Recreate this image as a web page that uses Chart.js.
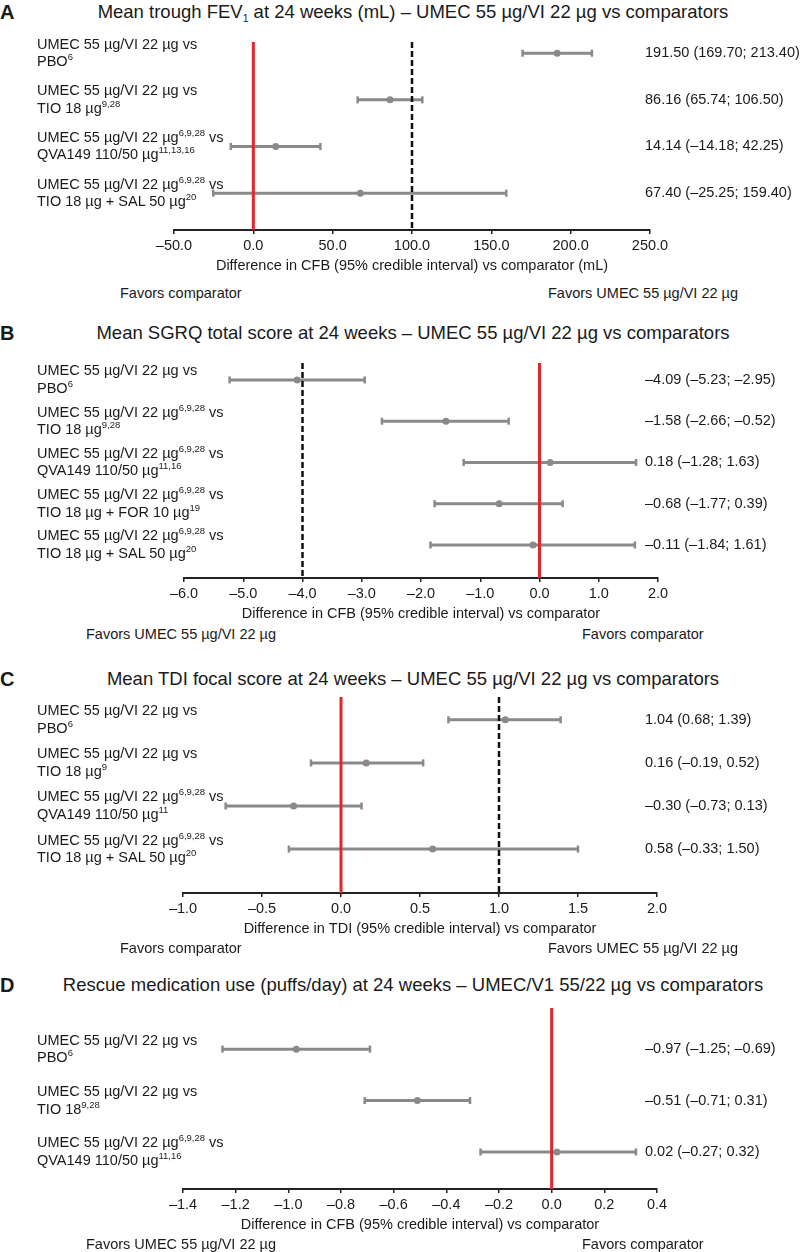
<!DOCTYPE html>
<html>
<head>
<meta charset="utf-8">
<script src="https://cdn.jsdelivr.net/npm/chart.js@4.4.0/dist/chart.umd.min.js"></script>
<style>
body { margin: 0; background: #fff; font-family: "Liberation Sans", Arial, sans-serif; color: #1a1a1a; }
#wrap { position: relative; width: 800px; height: 1252px; overflow: hidden; }
canvas { position: absolute; left: 0; }
.t { position: absolute; white-space: nowrap; font-size: 14.5px; line-height: 17.5px; }
.ttl { position: absolute; white-space: nowrap; font-size: 18.5px; line-height: 22px; transform: translateX(-50%); }
.let { position: absolute; left: 0; font-size: 20px; line-height: 22px; font-weight: bold; }
sup { font-size: 9.5px; line-height: 0; vertical-align: 6px; }
sub { font-size: 10.5px; line-height: 0; vertical-align: -4px; }
</style>
</head>
<body>
<div id="wrap"></div>
<script>
// A - trough FEV1
var rowsA = ['UMEC 55 µg/VI 22 µg vs<br>PBO<sup>6</sup>',
             'UMEC 55 µg/VI 22 µg vs<br>TIO 18 µg<sup>9,28</sup>',
             'UMEC 55 µg/VI 22 µg<sup>6,9,28</sup> vs<br>QVA149 110/50 µg<sup>11,13,16</sup>',
             'UMEC 55 µg/VI 22 µg<sup>6,9,28</sup> vs<br>TIO 18 µg + SAL 50 µg<sup>20</sup>'];
var meanA = [191.50, 86.16, 14.14, 67.40];
var lowA  = [169.70, 65.74, -14.18, -25.25];
var highA = [213.40, 106.50, 42.25, 159.40];
var textA = ['191.50 (169.70; 213.40)', '86.16 (65.74; 106.50)', '14.14 (–14.18; 42.25)', '67.40 (–25.25; 159.40)'];
var ticksA = [-50, 0, 50, 100, 150, 200, 250];

// B - SGRQ
var rowsB = ['UMEC 55 µg/VI 22 µg vs<br>PBO<sup>6</sup>',
             'UMEC 55 µg/VI 22 µg<sup>6,9,28</sup> vs<br>TIO 18 µg<sup>9,28</sup>',
             'UMEC 55 µg/VI 22 µg<sup>6,9,28</sup> vs<br>QVA149 110/50 µg<sup>11,16</sup>',
             'UMEC 55 µg/VI 22 µg<sup>6,9,28</sup> vs<br>TIO 18 µg + FOR 10 µg<sup>19</sup>',
             'UMEC 55 µg/VI 22 µg<sup>6,9,28</sup> vs<br>TIO 18 µg + SAL 50 µg<sup>20</sup>'];
var meanB = [-4.09, -1.58, 0.18, -0.68, -0.11];
var lowB  = [-5.23, -2.66, -1.28, -1.77, -1.84];
var highB = [-2.95, -0.52, 1.63, 0.39, 1.61];
var textB = ['–4.09 (–5.23; –2.95)', '–1.58 (–2.66; –0.52)', '0.18 (–1.28; 1.63)', '–0.68 (–1.77; 0.39)', '–0.11 (–1.84; 1.61)'];
var ticksB = [-6, -5, -4, -3, -2, -1, 0, 1, 2];

// C - TDI
var rowsC = ['UMEC 55 µg/VI 22 µg vs<br>PBO<sup>6</sup>',
             'UMEC 55 µg/VI 22 µg vs<br>TIO 18 µg<sup>9</sup>',
             'UMEC 55 µg/VI 22 µg<sup>6,9,28</sup> vs<br>QVA149 110/50 µg<sup>11</sup>',
             'UMEC 55 µg/VI 22 µg<sup>6,9,28</sup> vs<br>TIO 18 µg + SAL 50 µg<sup>20</sup>'];
var meanC = [1.04, 0.16, -0.30, 0.58];
var lowC  = [0.68, -0.19, -0.73, -0.33];
var highC = [1.39, 0.52, 0.13, 1.50];
var textC = ['1.04 (0.68; 1.39)', '0.16 (–0.19, 0.52)', '–0.30 (–0.73; 0.13)', '0.58 (–0.33; 1.50)'];
var ticksC = [-1, -0.5, 0, 0.5, 1, 1.5, 2];

// D - rescue medication
var rowsD = ['UMEC 55 µg/VI 22 µg vs<br>PBO<sup>6</sup>',
             'UMEC 55 µg/VI 22 µg vs<br>TIO 18<sup>9,28</sup>',
             'UMEC 55 µg/VI 22 µg<sup>6,9,28</sup> vs<br>QVA149 110/50 µg<sup>11,16</sup>'];
var meanD = [-0.97, -0.51, 0.02];
var lowD  = [-1.25, -0.71, -0.27];
var highD = [-0.69, -0.31, 0.32];
var textD = ['–0.97 (–1.25; –0.69)', '–0.51 (–0.71; 0.31)', '0.02 (–0.27; 0.32)'];
var ticksD = [-1.4, -1.2, -1.0, -0.8, -0.6, -0.4, -0.2, 0, 0.2, 0.4];

var favUmec = 'Favors UMEC 55 µg/VI 22 µg';
var favComp = 'Favors comparator';

var panels = [
  { letter: 'A', title: 'Mean trough FEV<sub>1</sub> at 24 weeks (mL) – UMEC 55 µg/VI 22 µg vs comparators',
    rows: rowsA, mean: meanA, low: lowA, high: highA, text: textA, ticks: ticksA, red: 0, dash: 100,
    axisTitle: 'Difference in CFB (95% credible interval) vs comparator (mL)', favL: favComp, favR: favUmec,
    titleY: 12, top: 42, axis: 230, x0: 174, x1: 650, yMin: -0.24, yMax: 3.79, favY: 294, favLX: 120, favRX: 548 },
  { letter: 'B', title: 'Mean SGRQ total score at 24 weeks – UMEC 55 µg/VI 22 µg vs comparators',
    rows: rowsB, mean: meanB, low: lowB, high: highB, text: textB, ticks: ticksB, red: 0, dash: -4,
    axisTitle: 'Difference in CFB (95% credible interval) vs comparator', favL: favUmec, favR: favComp,
    titleY: 333, top: 363, axis: 578, x0: 184, x1: 658, yMin: -0.41, yMax: 4.8, favY: 635, favLX: 86, favRX: 582 },
  { letter: 'C', title: 'Mean TDI focal score at 24 weeks – UMEC 55 µg/VI 22 µg vs comparators',
    rows: rowsC, mean: meanC, low: lowC, high: highC, text: textC, ticks: ticksC, red: 0, dash: 1,
    axisTitle: 'Difference in TDI (95% credible interval) vs comparator', favL: favComp, favR: favUmec,
    titleY: 679, top: 697, axis: 893, x0: 183, x1: 657, yMin: -0.53, yMax: 4.02, favY: 949, favLX: 120, favRX: 548 },
  { letter: 'D', title: 'Rescue medication use (puffs/day) at 24 weeks – UMEC/V1 55/22 µg vs comparators',
    rows: rowsD, mean: meanD, low: lowD, high: highD, text: textD, ticks: ticksD, red: 0, dash: null,
    axisTitle: 'Difference in CFB (95% credible interval) vs comparator', favL: favUmec, favR: favComp,
    titleY: 985, top: 1008, axis: 1189, x0: 183, x1: 657, yMin: -0.8, yMax: 2.72, favY: 1245, favLX: 86, favRX: 582 }
];

var wrap = document.getElementById('wrap');
var gray = '#8a8a8a';
var fontFam = '"Liberation Sans", Arial, sans-serif';

function addText(html, cls, x, y) {
  var d = document.createElement('div');
  d.className = cls;
  d.innerHTML = html;
  d.style.left = x + 'px';
  d.style.top = y + 'px';
  wrap.appendChild(d);
  return d;
}

function fmt(v) {
  return (v < -1e-9 ? '–' : '') + Math.abs(v).toFixed(1);
}

panels.forEach(function (p) {
  addText(p.letter, 'let', 0, p.titleY - 11);
  addText(p.title, 'ttl', 413, p.titleY - 11);

  var axisH = 48;
  var h = p.axis - p.top + axisH;
  var cv = document.createElement('canvas');
  cv.width = 800; cv.height = h;
  cv.style.top = p.top + 'px';
  wrap.appendChild(cv);

  var ds = [];
  ds.push({ type: 'line', data: [{ x: p.red, y: p.yMin }, { x: p.red, y: p.yMax }],
            borderColor: '#e2262c', borderWidth: 3, pointRadius: 0 });
  if (p.dash !== null) {
    ds.push({ type: 'line', data: [{ x: p.dash, y: p.yMin }, { x: p.dash, y: p.yMax }],
              borderColor: '#111', borderWidth: 2.5, borderDash: [6, 3], pointRadius: 0 });
  }
  ds.push({ type: 'scatter', data: p.mean.map(function (m, i) { return { x: m, y: i }; }),
            pointRadius: 3.5, backgroundColor: gray, borderWidth: 0 });
  for (var i = 0; i < p.low.length; i++) {
    ds.push({ type: 'line', data: [{ x: p.low[i], y: i }, { x: p.high[i], y: i }],
              borderColor: gray, borderWidth: 3, pointStyle: 'line', pointRotation: 90,
              pointRadius: 3.5, pointBorderWidth: 2.5, pointBorderColor: gray });
  }

  var ticks = p.ticks;
  var chart = new Chart(cv, {
    type: 'scatter',
    data: { datasets: ds },
    options: {
      responsive: false,
      animation: false,
      layout: { autoPadding: false, padding: { left: p.x0, right: 800 - p.x1, top: 0, bottom: 0 } },
      plugins: { legend: { display: false }, tooltip: { enabled: false } },
      scales: {
        x: {
          type: 'linear', min: ticks[0], max: ticks[ticks.length - 1],
          afterBuildTicks: function (s) { s.ticks = ticks.map(function (v) { return { value: v }; }); },
          afterFit: function (s) { s.height = axisH; },
          grid: { drawOnChartArea: false, drawTicks: true, tickLength: 4, color: '#222', lineWidth: 1.5 },
          border: { display: true, color: '#222', width: 2 },
          ticks: { color: '#1a1a1a', padding: 3, font: { family: fontFam, size: 14.5 }, callback: function (v) { return fmt(v); } },
          title: { display: true, text: p.axisTitle, color: '#1a1a1a', padding: { top: 0, bottom: 3 }, font: { family: fontFam, size: 14.5 } }
        },
        y: { type: 'linear', reverse: true, min: p.yMin, max: p.yMax, display: false }
      }
    }
  });

  var ys = chart.scales.y;
  p.rows.forEach(function (r, i) {
    var py = p.top + ys.getPixelForValue(i);
    addText(r, 't', 37, py - 17.5);
    addText(p.text[i], 't', 645, py - 9);
  });
  addText(p.favL, 't', p.favLX, p.favY - 9);
  addText(p.favR, 't', p.favRX, p.favY - 9);
});
</script>
</body>
</html>
